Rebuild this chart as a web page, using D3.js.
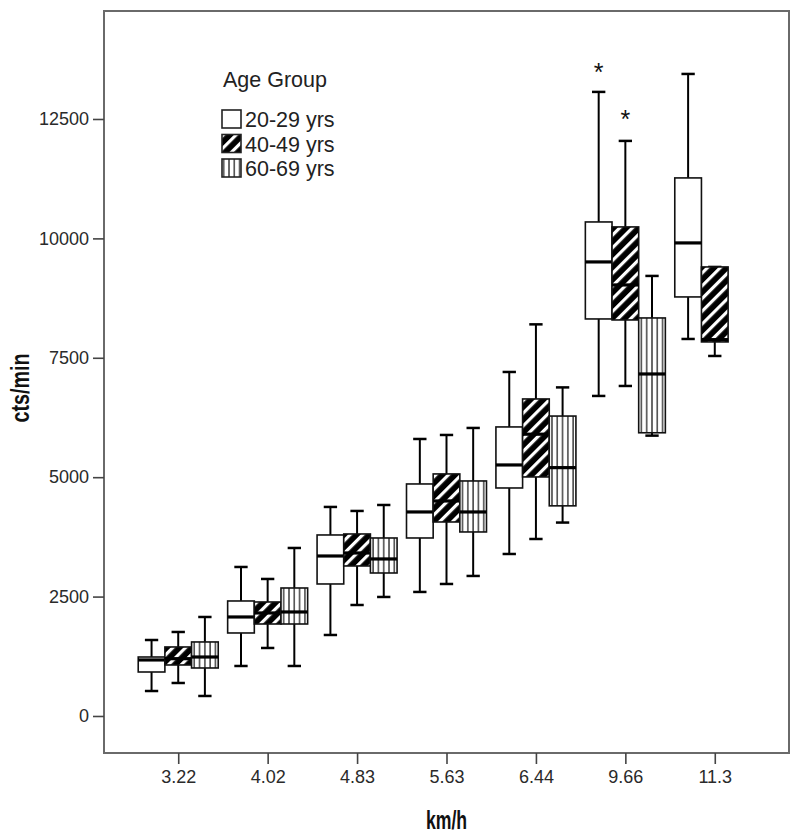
<!DOCTYPE html>
<html>
<head>
<meta charset="utf-8">
<script src="https://cdn.jsdelivr.net/npm/d3@7"></script>
<style>
    body { margin: 0; background: #fff; }
    .tickLabel { font-family: "Liberation Sans", Arial, sans-serif; font-size: 18px; fill: #2a2a2a; }
    .axisTitle { font-family: "Liberation Sans", Arial, sans-serif; font-weight: bold; font-size: 26px; fill: #111; }
    .legendText { font-family: "Liberation Sans", Arial, sans-serif; font-size: 21.5px; fill: #222; }
</style>
</head>
<body>
<script>

// speed categories on the x axis
var speeds = ["3.22", "4.02", "4.83", "5.63", "6.44", "9.66", "11.3"];
var ageGroups = ["20-29 yrs", "40-49 yrs", "60-69 yrs"];
var yTicks = [0, 2500, 5000, 7500, 10000, 12500];

// box statistics, one row per speed, one column per age group (null = no box)
var mins = [
    [523, 691, 419],
    [1047, 1424, 1047],
    [1696, 2324, 2492],
    [2597, 2764, 2932],
    [3392, 3706, 4050],
    [6701, 6910, 5870],
    [7894, 7538, null]
];
var q1s = [
    [921, 1068, 1005],
    [1738, 1926, 1926],
    [2764, 3141, 2994],
    [3727, 4062, 3853],
    [4774, 5005, 4400],
    [8313, 8292, 5930],
    [8774, 7832, null]
];
var medians = [
    [1173, 1200, 1235],
    [2073, 2157, 2178],
    [3350, 3413, 3288],
    [4272, 4502, 4272],
    [5256, 5900, 5200],
    [9507, 9025, 7161],
    [9905, 7880, null]
];
var q3s = [
    [1235, 1445, 1550],
    [2408, 2387, 2680],
    [3790, 3811, 3727],
    [4858, 5068, 4921],
    [6052, 6638, 6280],
    [10344, 10240, 8334],
    [11266, 9402, null]
];
var maxs = [
    [1591, 1759, 2073],
    [3120, 2869, 3518],
    [4377, 4293, 4418],
    [5800, 5884, 6031],
    [7203, 8200, 6880],
    [13067, 12041, 9214],
    [13443, 9402, null]
];
// extreme values drawn as stars
var outliers = [
    {speed: "9.66", group: "20-29 yrs", value: 13506},
    {speed: "9.66", group: "40-49 yrs", value: 12522}
];

var width = 800, height = 836;
var frame = {left: 104, right: 789, top: 11, bottom: 753};

var svg = d3.select("body").append("svg")
    .attr("width", width)
    .attr("height", height);

// fill patterns for the three groups
var defs = svg.append("defs");

var diag = defs.append("pattern")
    .attr("id", "diag")
    .attr("patternUnits", "userSpaceOnUse")
    .attr("width", 9)
    .attr("height", 9)
    .attr("patternTransform", "rotate(45)");
diag.append("rect").attr("width", 9).attr("height", 9).attr("fill", "#000");
diag.append("rect").attr("x", 3).attr("width", 3.2).attr("height", 9).attr("fill", "#fff");

var vert = defs.append("pattern")
    .attr("id", "vert")
    .attr("patternUnits", "userSpaceOnUse")
    .attr("width", 5.3)
    .attr("height", 10);
vert.append("rect").attr("width", 5.3).attr("height", 10).attr("fill", "#fff");
vert.append("rect").attr("x", 2).attr("width", 1.4).attr("height", 10).attr("fill", "#333");

var fills = {"20-29 yrs": "#fff", "40-49 yrs": "url(#diag)", "60-69 yrs": "url(#vert)"};

// scales
var x = d3.scalePoint()
    .domain(speeds)
    .range([frame.left, frame.right])
    .padding(0.83);

var xGroup = d3.scaleBand()
    .domain(ageGroups)
    .range([-40, 40]);

var y = d3.scaleLinear()
    .domain([-775, 14761])
    .range([frame.bottom, frame.top]);

// frame
svg.append("rect")
    .attr("x", frame.left)
    .attr("y", frame.top)
    .attr("width", frame.right - frame.left)
    .attr("height", frame.bottom - frame.top)
    .attr("fill", "none")
    .attr("stroke", "#6a6a6a")
    .attr("stroke-width", 2);

// y axis
var yAxis = svg.append("g")
    .attr("transform", "translate(" + frame.left + ",0)")
    .call(d3.axisLeft(y).tickValues(yTicks).tickFormat(d3.format("d"))
        .tickSize(11).tickPadding(4).tickSizeOuter(0));
yAxis.select(".domain").remove();
yAxis.selectAll("line").attr("stroke", "#444").attr("stroke-width", 1.6);
yAxis.selectAll("text").attr("class", "tickLabel");

// x axis
var xAxis = svg.append("g")
    .attr("transform", "translate(0," + frame.bottom + ")")
    .call(d3.axisBottom(x).tickSize(11).tickPadding(6).tickSizeOuter(0));
xAxis.select(".domain").remove();
xAxis.selectAll("line").attr("stroke", "#444").attr("stroke-width", 1.6);
xAxis.selectAll("text").attr("class", "tickLabel");

// axis titles (narrow bold look)
svg.append("text")
    .attr("class", "axisTitle")
    .attr("transform", "translate(" + ((frame.left + frame.right) / 2) + ",829) scale(0.68,1)")
    .attr("text-anchor", "middle")
    .text("km/h");

svg.append("text")
    .attr("class", "axisTitle")
    .attr("transform", "translate(29,388) rotate(-90) scale(0.76,1)")
    .attr("text-anchor", "middle")
    .text("cts/min");

// flatten the stats into one list of boxes
var boxes = [];
speeds.forEach(function(s, i){
    ageGroups.forEach(function(g, j){
        if (medians[i][j] === null) return;
        boxes.push({
            speed: s, group: g,
            min: mins[i][j], q1: q1s[i][j], median: medians[i][j],
            q3: q3s[i][j], max: maxs[i][j]
        });
    });
});

var bw = xGroup.bandwidth();
var capW = bw / 2;

var boxG = svg.selectAll(".box")
    .data(boxes)
    .enter()
    .append("g")
    .attr("class", "box")
    .attr("transform", function(d){
        return "translate(" + (x(d.speed) + xGroup(d.group)) + ",0)";
    });

// whiskers
boxG.append("line")
    .attr("x1", bw / 2).attr("x2", bw / 2)
    .attr("y1", function(d){ return y(d.max); })
    .attr("y2", function(d){ return y(d.q3); })
    .attr("stroke", "#000").attr("stroke-width", 2);
boxG.append("line")
    .attr("x1", bw / 2).attr("x2", bw / 2)
    .attr("y1", function(d){ return y(d.q1); })
    .attr("y2", function(d){ return y(d.min); })
    .attr("stroke", "#000").attr("stroke-width", 2);
boxG.append("line")
    .attr("x1", bw / 2 - capW / 2).attr("x2", bw / 2 + capW / 2)
    .attr("y1", function(d){ return y(d.max); })
    .attr("y2", function(d){ return y(d.max); })
    .attr("stroke", "#000").attr("stroke-width", 2.5);
boxG.append("line")
    .attr("x1", bw / 2 - capW / 2).attr("x2", bw / 2 + capW / 2)
    .attr("y1", function(d){ return y(d.min); })
    .attr("y2", function(d){ return y(d.min); })
    .attr("stroke", "#000").attr("stroke-width", 2.5);

// box body
boxG.append("rect")
    .attr("x", 0)
    .attr("width", bw)
    .attr("y", function(d){ return y(d.q3); })
    .attr("height", function(d){ return y(d.q1) - y(d.q3); })
    .attr("fill", function(d){ return fills[d.group]; })
    .attr("stroke", "#111")
    .attr("stroke-width", 1.6);

// median
boxG.append("line")
    .attr("x1", 0).attr("x2", bw)
    .attr("y1", function(d){ return y(d.median); })
    .attr("y2", function(d){ return y(d.median); })
    .attr("stroke", "#000").attr("stroke-width", 3.2);

// outlier stars
svg.selectAll(".outlier")
    .data(outliers)
    .enter()
    .append("text")
    .attr("class", "outlier")
    .attr("x", function(d){ return x(d.speed) + xGroup(d.group) + bw / 2; })
    .attr("y", function(d){ return y(d.value) + 10; })
    .attr("text-anchor", "middle")
    .attr("font-family", "Liberation Sans, Arial, sans-serif")
    .attr("font-size", 25)
    .attr("fill", "#111")
    .text("*");

// legend
var legend = svg.append("g")
    .attr("transform", "translate(221,0)");

legend.append("text")
    .attr("class", "legendText")
    .attr("x", 2)
    .attr("y", 87)
    .text("Age Group");

var items = legend.selectAll(".legendItem")
    .data(ageGroups)
    .enter()
    .append("g")
    .attr("class", "legendItem")
    .attr("transform", function(d, i){ return "translate(0," + (119 + i * 24.5) + ")"; });

items.append("rect")
    .attr("x", 1)
    .attr("y", -9)
    .attr("width", 19)
    .attr("height", 18)
    .attr("fill", function(d){ return fills[d]; })
    .attr("stroke", "#222")
    .attr("stroke-width", 1.6);

items.append("text")
    .attr("class", "legendText")
    .attr("x", 24)
    .attr("y", 8)
    .text(function(d){ return d; });

</script>
</body>
</html>
